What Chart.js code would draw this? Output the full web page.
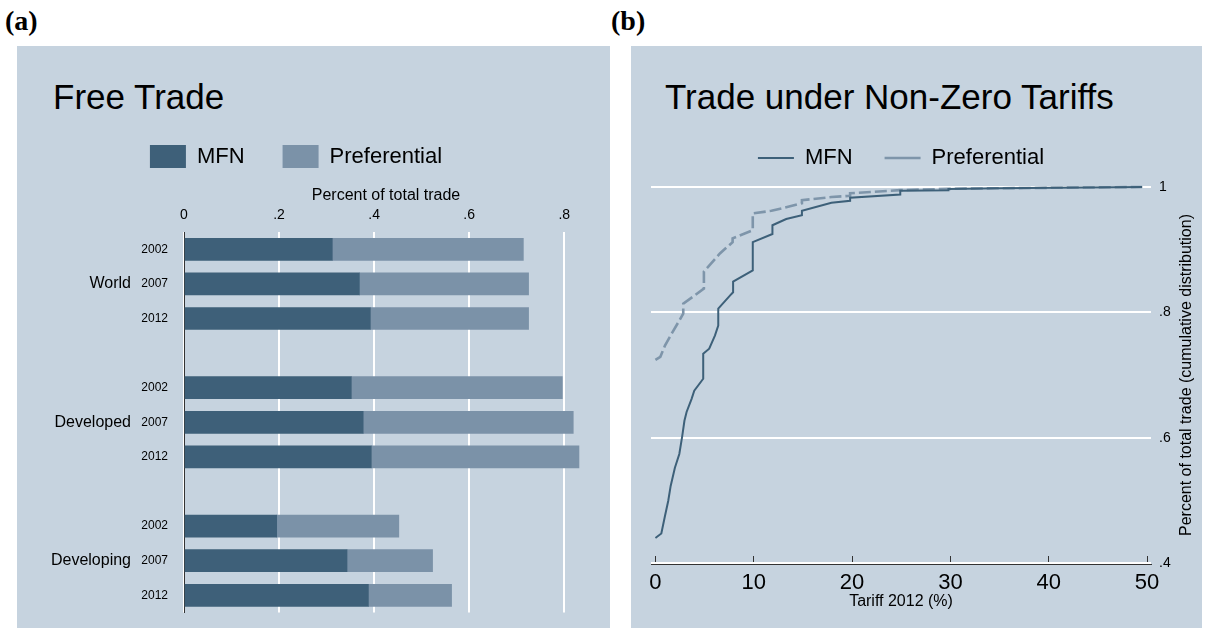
<!DOCTYPE html>
<html>
<head>
<meta charset="utf-8">
<script src="https://cdn.jsdelivr.net/npm/chart.js@4.4.1/dist/chart.umd.min.js"></script>
<style>
  body { margin: 0; background: #fff; width: 1210px; height: 630px; position: relative; overflow: hidden;
         font-family: "Liberation Sans", Arial, sans-serif; }
  .tag { position: absolute; top: 5px; line-height: 28px; font: bold 28px "Liberation Serif", "Times New Roman", serif; color: #000; }
  .panel { position: absolute; top: 46px; height: 582px; background: #c6d3df; }
  .ptitle { position: absolute; top: 79px; line-height: 35px; font-size: 35px; color: #000; white-space: nowrap; }
  canvas { position: absolute; top: 46px; }
</style>
</head>
<body>
<div class="tag" style="left:5px">(a)</div>
<div class="tag" style="left:611px">(b)</div>
<div class="panel" style="left:17px; width:593px"></div>
<div class="panel" style="left:631px; width:571px"></div>
<div class="ptitle" style="left:53px">Free Trade</div>
<div class="ptitle" style="left:665px">Trade under Non-Zero Tariffs</div>
<canvas id="tradeBars" width="610" height="582" style="left:0"></canvas>
<canvas id="tariffCdf" width="591" height="582" style="left:619px"></canvas>
<script>
const FONT = '"Liberation Sans", Arial, sans-serif';

// (a) share of total trade entering duty free, by regime
const regions = ['World', 'Developed', 'Developing'];
const years = ['2002', '2007', '2012'];
const mfnShare  = [0.312, 0.369, 0.392, 0.352, 0.377, 0.394, 0.195, 0.343, 0.388];
const prefShare = [0.402, 0.356, 0.333, 0.444, 0.442, 0.437, 0.257, 0.180, 0.175];
const shareTicks = [0, 0.2, 0.4, 0.6, 0.8];

// (b) cumulative share of trade by 2012 tariff rate
const mfnTariff = [0, 0.6, 0.97, 1.3, 1.55, 1.98, 2.43, 2.73, 2.95, 3.17, 3.68, 3.95, 4.86, 4.86, 5.47,
  6.05, 6.39, 6.39, 7.6, 7.9, 7.9, 9.9, 9.9, 11.9, 11.9, 13.3, 14.9, 14.9, 17.9, 19.8, 19.8,
  24.9, 24.9, 29.8, 29.8, 34.7, 49.5];
const mfnCum = [0.440, 0.447, 0.475, 0.499, 0.523, 0.552, 0.574, 0.603, 0.627, 0.641, 0.662, 0.675, 0.694, 0.734, 0.742,
  0.763, 0.779, 0.806, 0.827, 0.832, 0.849, 0.867, 0.912, 0.925, 0.939, 0.949, 0.955, 0.962, 0.975, 0.978, 0.983,
  0.988, 0.994, 0.995, 0.997, 0.998, 1.0];
const prefTariff = [0, 0.5, 0.97, 1.65, 2.32, 2.83, 2.83, 4.0, 4.93, 4.93, 6.56, 7.85, 7.85, 9.9, 9.9,
  11.8, 14.9, 14.9, 17.9, 19.8, 19.8, 24.9, 29.8, 34.7, 49.5];
const prefCum = [0.724, 0.729, 0.747, 0.766, 0.784, 0.798, 0.814, 0.827, 0.838, 0.865, 0.894, 0.912, 0.918, 0.931, 0.958,
  0.962, 0.974, 0.979, 0.984, 0.986, 0.990, 0.995, 0.997, 0.998, 1.0];
const tariffTicks = [0, 10, 20, 30, 40, 50];
const cumTicks = [0.4, 0.6, 0.8, 1];

const fmtShare = v => v === 0 ? '0' : String(Math.round(v * 10) / 10).replace(/^0\./, '.');
const setTicks = list => scale => { scale.ticks = list.map(v => ({ value: v })); };

// rows: three years per region, one empty row between regions
const rowLabels = [], mfnRows = [], prefRows = [];
regions.forEach((r, g) => {
  if (g > 0) { rowLabels.push(''); mfnRows.push(null); prefRows.push(null); }
  years.forEach((yr, k) => {
    rowLabels.push(yr);
    mfnRows.push(mfnShare[g * 3 + k]);
    prefRows.push(prefShare[g * 3 + k]);
  });
});

const regionLabels = {
  id: 'regionLabels',
  afterDraw(chart) {
    const { ctx, chartArea, scales: { y } } = chart;
    ctx.save();
    ctx.font = '16px ' + FONT;
    ctx.fillStyle = '#000';
    ctx.textAlign = 'right';
    ctx.textBaseline = 'middle';
    regions.forEach((r, g) => ctx.fillText(r, chartArea.left - 53, y.getPixelForValue(g * 4 + 1)));
    ctx.restore();
  }
};

new Chart(document.getElementById('tradeBars'), {
  type: 'bar',
  data: {
    labels: rowLabels,
    datasets: [
      { label: 'MFN', data: mfnRows, backgroundColor: '#3e6079', barThickness: 22 },
      { label: 'Preferential', data: prefRows, backgroundColor: '#7b92a8', barThickness: 22 }
    ]
  },
  options: {
    indexAxis: 'y',
    responsive: false,
    animation: false,
    layout: { padding: { left: 4, right: 22, top: 61, bottom: 15.4 } },
    plugins: {
      legend: { labels: { boxWidth: 36, boxHeight: 23, padding: 38, color: '#000', font: { size: 22, family: FONT } } },
      tooltip: { enabled: false }
    },
    scales: {
      x: {
        position: 'top', stacked: true, min: 0, max: 0.85,
        afterBuildTicks: setTicks(shareTicks),
        ticks: { padding: 8.6, color: '#000', font: { size: 14, family: FONT }, callback: fmtShare },
        grid: { color: '#fff', lineWidth: 2, drawTicks: false },
        border: { display: false },
        title: { display: true, text: 'Percent of total trade', color: '#000',
                 font: { size: 16, family: FONT }, padding: { top: 8.4, bottom: -7.6 } }
      },
      y: {
        stacked: true,
        afterFit: s => { s.width = 180; },
        ticks: { padding: 8, color: '#000', font: { size: 12, family: FONT } },
        grid: { display: false },
        border: { display: true, color: '#333', width: 1 }
      }
    }
  },
  plugins: [regionLabels]
});

const cdfAxisTitle = {
  id: 'cdfAxisTitle',
  afterDraw(chart) {
    const { ctx, chartArea, scales: { y } } = chart;
    const mid = (y.getPixelForValue(cumTicks[0]) + y.getPixelForValue(cumTicks[cumTicks.length - 1])) / 2;
    ctx.save();
    ctx.translate(chartArea.right + 36, mid);
    ctx.rotate(-Math.PI / 2);
    ctx.font = '16px ' + FONT;
    ctx.fillStyle = '#000';
    ctx.textAlign = 'center';
    ctx.textBaseline = 'middle';
    ctx.fillText('Percent of total trade (cumulative distribution)', 0, 0);
    ctx.restore();
  }
};

new Chart(document.getElementById('tariffCdf'), {
  type: 'line',
  data: {
    datasets: [
      { label: 'MFN', data: mfnTariff.map((t, i) => ({ x: t, y: mfnCum[i] })),
        borderColor: '#3d6079', backgroundColor: '#3d6079', borderWidth: 2, pointRadius: 0, tension: 0 },
      { label: 'Preferential', data: prefTariff.map((t, i) => ({ x: t, y: prefCum[i] })),
        borderColor: '#7e95aa', backgroundColor: '#7e95aa', borderWidth: 2.6, borderDash: [12, 4], pointRadius: 0, tension: 0 }
    ]
  },
  options: {
    responsive: false,
    animation: false,
    layout: { padding: { left: 32, right: 33, top: 69, bottom: 16.7 } },
    plugins: {
      legend: { fullSize: false,
                labels: { usePointStyle: true, pointStyle: 'line', pointStyleWidth: 36, padding: 32,
                          color: '#000', font: { size: 22, family: FONT } } },
      tooltip: { enabled: false }
    },
    scales: {
      x: {
        type: 'linear', min: -0.45, max: 50.4,
        afterBuildTicks: setTicks(tariffTicks),
        ticks: { padding: 13.8, color: '#000', font: { size: 22, family: FONT } },
        grid: { drawOnChartArea: false, tickLength: -8, tickColor: '#333', tickWidth: 1 },
        border: { color: '#333', width: 1 },
        title: { display: true, text: 'Tariff 2012 (%)', color: '#000',
                 font: { size: 16, family: FONT }, padding: { top: -17.9, bottom: 0 } }
      },
      y: {
        position: 'right', min: 0.3984, max: 1.0128,
        afterBuildTicks: setTicks(cumTicks),
        afterFit: s => { s.width = 26; },
        ticks: { padding: 8, color: '#000', font: { size: 14, family: FONT }, callback: fmtShare },
        grid: { color: '#fff', lineWidth: 2, drawTicks: false },
        border: { display: false }
      }
    }
  },
  plugins: [cdfAxisTitle]
});
</script>
</body>
</html>
